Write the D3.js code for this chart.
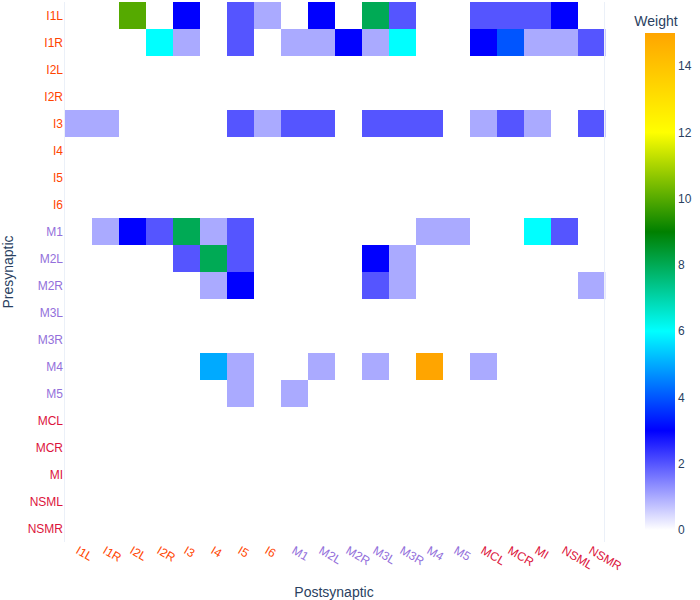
<!DOCTYPE html>
<html>
<head>
<meta charset="utf-8">
<script src="https://cdn.jsdelivr.net/npm/d3@7"></script>
<style>
  body { margin: 0; background: #fff; }
  svg text { font-family: "Liberation Sans", Arial, sans-serif; }
</style>
</head>
<body>
<div id="viz"></div>
<script>
// neurons, same order on both axes
const neurons = ["I1L", "I1R", "I2L", "I2R", "I3", "I4", "I5", "I6",
  "M1", "M2L", "M2R", "M3L", "M3R", "M4", "M5",
  "MCL", "MCR", "MI", "NSML", "NSMR"];

// label colour by neuron class
const classColors = { I: "#ff4500", M: "#9370db", other: "#dc143c" };

// weights[pre][post]
const weights = [
  [0, 0, 10, 0, 3, 0, 2, 1, 0, 3, 0, 8, 2, 0, 0, 2, 2, 2, 3, 0], // I1L
  [0, 0, 0, 6, 1, 0, 2, 0, 1, 1, 3, 1, 6, 0, 0, 3, 4, 1, 1, 2], // I1R
  [0, 0, 0, 0, 0, 0, 0, 0, 0, 0, 0, 0, 0, 0, 0, 0, 0, 0, 0, 0], // I2L
  [0, 0, 0, 0, 0, 0, 0, 0, 0, 0, 0, 0, 0, 0, 0, 0, 0, 0, 0, 0], // I2R
  [1, 1, 0, 0, 0, 0, 2, 1, 2, 2, 0, 2, 2, 2, 0, 1, 2, 1, 0, 2], // I3
  [0, 0, 0, 0, 0, 0, 0, 0, 0, 0, 0, 0, 0, 0, 0, 0, 0, 0, 0, 0], // I4
  [0, 0, 0, 0, 0, 0, 0, 0, 0, 0, 0, 0, 0, 0, 0, 0, 0, 0, 0, 0], // I5
  [0, 0, 0, 0, 0, 0, 0, 0, 0, 0, 0, 0, 0, 0, 0, 0, 0, 0, 0, 0], // I6
  [0, 1, 3, 2, 8, 1, 2, 0, 0, 0, 0, 0, 0, 1, 1, 0, 0, 6, 2, 0], // M1
  [0, 0, 0, 0, 2, 8, 2, 0, 0, 0, 0, 3, 1, 0, 0, 0, 0, 0, 0, 0], // M2L
  [0, 0, 0, 0, 0, 1, 3, 0, 0, 0, 0, 2, 1, 0, 0, 0, 0, 0, 0, 1], // M2R
  [0, 0, 0, 0, 0, 0, 0, 0, 0, 0, 0, 0, 0, 0, 0, 0, 0, 0, 0, 0], // M3L
  [0, 0, 0, 0, 0, 0, 0, 0, 0, 0, 0, 0, 0, 0, 0, 0, 0, 0, 0, 0], // M3R
  [0, 0, 0, 0, 0, 5, 1, 0, 0, 1, 0, 1, 0, 15, 0, 1, 0, 0, 0, 0], // M4
  [0, 0, 0, 0, 0, 0, 1, 0, 1, 0, 0, 0, 0, 0, 0, 0, 0, 0, 0, 0], // M5
  [0, 0, 0, 0, 0, 0, 0, 0, 0, 0, 0, 0, 0, 0, 0, 0, 0, 0, 0, 0], // MCL
  [0, 0, 0, 0, 0, 0, 0, 0, 0, 0, 0, 0, 0, 0, 0, 0, 0, 0, 0, 0], // MCR
  [0, 0, 0, 0, 0, 0, 0, 0, 0, 0, 0, 0, 0, 0, 0, 0, 0, 0, 0, 0], // MI
  [0, 0, 0, 0, 0, 0, 0, 0, 0, 0, 0, 0, 0, 0, 0, 0, 0, 0, 0, 0], // NSML
  [0, 0, 0, 0, 0, 0, 0, 0, 0, 0, 0, 0, 0, 0, 0, 0, 0, 0, 0, 0]  // NSMR
];

const colorStops = [0, 3, 6, 9, 12, 15];
const colorRange = ["#ffffff", "#0000ff", "#00ffff", "#008000", "#ffff00", "#ffa500"];
const barTicks = [0, 2, 4, 6, 8, 10, 12, 14];

const W = 700, H = 600;
const plot = { left: 65, top: 2, width: 540, height: 540 };
const textColor = "#2a3f5f";

function labelColor(n) {
  if (/^I\d/.test(n)) return classColors.I;
  if (/^M\d/.test(n)) return classColors.M;
  return classColors.other;
}

const svg = d3.select("#viz").append("svg")
  .attr("width", W)
  .attr("height", H);

const x = d3.scaleBand().domain(neurons).range([plot.left, plot.left + plot.width]);
const y = d3.scaleBand().domain(neurons).range([plot.top, plot.top + plot.height]);
const color = d3.scaleLinear().domain(colorStops).range(colorRange);

// cells
const cells = [];
weights.forEach((row, i) => row.forEach((v, j) => cells.push({ pre: neurons[i], post: neurons[j], v: v })));

svg.append("g").selectAll("rect")
  .data(cells)
  .enter()
  .append("rect")
  .attr("x", d => x(d.post))
  .attr("y", d => y(d.pre))
  .attr("width", x.bandwidth() + 0.3)
  .attr("height", y.bandwidth() + 0.3)
  .attr("fill", d => color(d.v));

// faint frame lines like the reference grid edges
svg.append("g").selectAll("line")
  .data([plot.left - 0.5, plot.left + plot.width - 0.5])
  .enter()
  .append("line")
  .attr("x1", d => d).attr("x2", d => d)
  .attr("y1", plot.top).attr("y2", plot.top + plot.height)
  .attr("stroke", "#ebf0f8");

// y tick labels
svg.append("g").selectAll("text")
  .data(neurons)
  .enter()
  .append("text")
  .attr("x", plot.left - 2)
  .attr("y", d => y(d) + y.bandwidth() / 2)
  .attr("dy", "0.35em")
  .attr("text-anchor", "end")
  .style("font-size", "12px")
  .attr("fill", d => labelColor(d))
  .text(d => d);

// x tick labels, rotated 30deg
svg.append("g").selectAll("text")
  .data(neurons)
  .enter()
  .append("text")
  .attr("transform", d => `translate(${x(d) + x.bandwidth() / 2 + 1}, ${plot.top + plot.height + 3}) rotate(30)`)
  .attr("dy", "0.75em")
  .attr("text-anchor", "start")
  .style("font-size", "12px")
  .attr("fill", d => labelColor(d))
  .text(d => d);

// axis titles
svg.append("text")
  .attr("x", plot.left + plot.width / 2 - 1)
  .attr("y", 597)
  .attr("text-anchor", "middle")
  .style("font-size", "14px")
  .attr("fill", textColor)
  .text("Postsynaptic");

svg.append("text")
  .attr("transform", `translate(13, ${plot.top + plot.height / 2}) rotate(-90)`)
  .attr("text-anchor", "middle")
  .style("font-size", "14px")
  .attr("fill", textColor)
  .text("Presynaptic");

// colorbar
const bar = { x: 645, top: 33, bottom: 530, width: 30 };
const cy = d3.scaleLinear().domain([0, 15]).range([bar.bottom, bar.top]);

const grad = svg.append("defs").append("linearGradient")
  .attr("id", "wgrad")
  .attr("x1", 0).attr("y1", 1).attr("x2", 0).attr("y2", 0);
grad.selectAll("stop")
  .data(colorStops)
  .enter()
  .append("stop")
  .attr("offset", d => d / 15)
  .attr("stop-color", d => color(d));

svg.append("rect")
  .attr("x", bar.x)
  .attr("y", bar.top)
  .attr("width", bar.width)
  .attr("height", bar.bottom - bar.top)
  .attr("fill", "url(#wgrad)");

svg.append("g").selectAll("text")
  .data(barTicks)
  .enter()
  .append("text")
  .attr("x", bar.x + bar.width + 3)
  .attr("y", d => cy(d))
  .attr("dy", "0.35em")
  .style("font-size", "12px")
  .attr("fill", textColor)
  .text(d => d);

svg.append("text")
  .attr("x", bar.x + bar.width / 2 - 4)
  .attr("y", 26)
  .attr("text-anchor", "middle")
  .style("font-size", "14px")
  .attr("fill", textColor)
  .text("Weight");
</script>
</body>
</html>
